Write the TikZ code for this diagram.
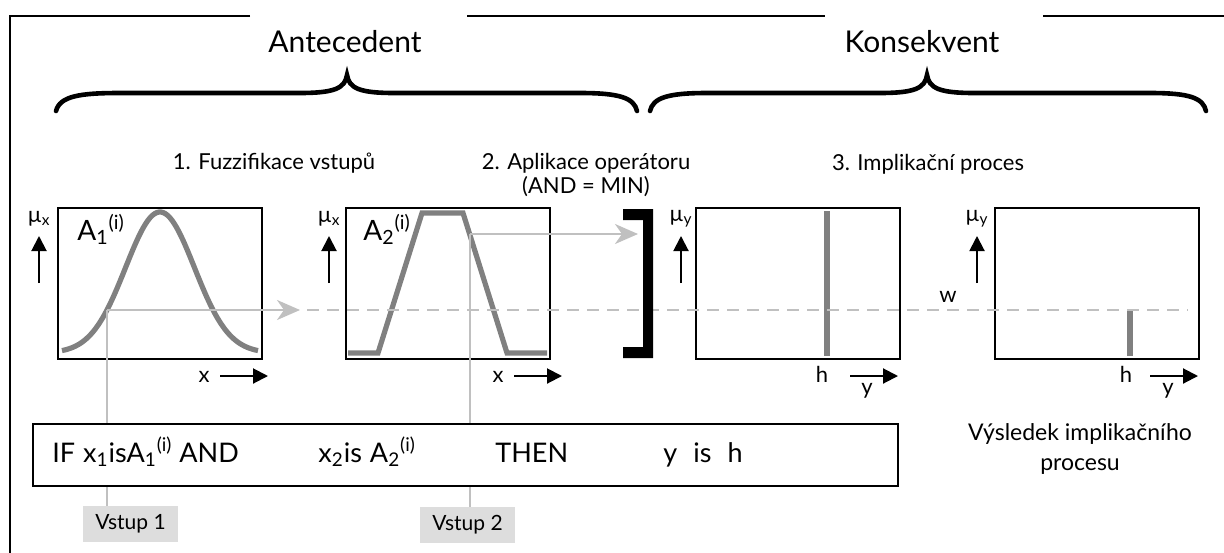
\documentclass[tikz,border=0pt]{standalone}
\usepackage{fontspec}
\setmainfont{Lato}
\usepackage{tikz}
\usetikzlibrary{arrows.meta}
\usetikzlibrary{positioning}
\definecolor{mfgray}{RGB}{128,128,128}
\definecolor{guidegray}{RGB}{192,192,192}
\definecolor{vstupfill}{RGB}{221,221,221}
\tikzset{>={Triangle[length=7.5pt,width=7.5pt]}}
\tikzset{
  frame/.style={line width=0.9pt},
  brace/.style={line width=2.3pt, line cap=round},
  title/.style={font=\fontsize{15}{18}\selectfont, inner sep=0pt},
  stage/.style={font=\fontsize{11}{12}\selectfont, inner sep=0pt, align=center},
  plotbox/.style={draw, line width=1pt, minimum width=102pt, minimum height=75.5pt, inner sep=0pt},
  mfline/.style={draw=mfgray, line width=2.6pt},
  guide/.style={draw=guidegray, line width=1.2pt},
  guidearrow/.style={guide, -{Stealth[length=11.5pt,width=10pt,inset=3.5pt]}},
  axlab/.style={font=\fontsize{11}{13}\selectfont, inner sep=0pt},
  alab/.style={font=\fontsize{14}{16}\selectfont, inner sep=0pt, anchor=base west},
  rulebox/.style={draw, fill=white, line width=1pt, minimum width=432.5pt, minimum height=31pt, inner sep=0pt},
  ruletext/.style={font=\fontsize{13.5}{16}\selectfont, inner sep=0pt, anchor=base west},
  inbox/.style={fill=vstupfill, font=\fontsize{10.5}{12}\selectfont, minimum width=47.5pt, minimum height=18pt, inner sep=0pt}
}
\newcommand{\muaxis}[3]{% {name}{x}{index}
  \node[axlab] (#1) at (#2,219) {µ\textsubscript{#3}};
  \draw[->, line width=1pt] (#2,283) -- (#2,236); % arrow up
}
\newcommand{\xaxis}[4]{% {name}{label x}{arrow start}{label}
  \node[axlab, anchor=base] (#1) at (#2,382) {#4};
  \draw[->, line width=1pt] (#3,376) -- ++(48,0); % arrow right
}

\begin{document}
\begin{tikzpicture}[x=0.5pt,y=-0.5pt]
  \useasboundingbox (0,0) rectangle (1224,552);
  % frame
  \draw[frame] (250,16) -- (10,16) -- (10,553);
  \draw[frame] (467,16) -- (825,16);
  \draw[frame] (1043,16) -- (1225,16);

  % titles and braces
  \node[title, anchor=base] (ante) at (345,52) {Antecedent};
  \node[title, anchor=base] (kons) at (922,52) {Konsekvent};
  \draw[brace] (56,111) .. controls (60,96) and (80,93) .. (120,93) -- (300,93)
    .. controls (335,93) and (345,88) .. (347,75)
    .. controls (349,88) and (359,93) .. (394,93) -- (580,93)
    .. controls (620,93) and (634,98) .. (637,111);
  \draw[brace] (650,111) .. controls (653,98) and (667,93) .. (707,93) -- (880,93)
    .. controls (915,93) and (925,88) .. (927,75)
    .. controls (929,88) and (939,93) .. (974,93) -- (1150,93)
    .. controls (1190,93) and (1203,98) .. (1206,111);

  \node[stage, anchor=base] (st1) at (274,169) {1. Fuzzifikace vstupů};
  \node[stage, anchor=north] (st2) at (586,153) {2. Aplikace operátoru\\(AND = MIN)};
  \node[stage, anchor=base] (st3) at (928,170) {3. Implikační proces};

  % plots
  \node[plotbox] (p1) at (160,283.5) {};
  \node[plotbox] (p2) at (448,283.5) {};
  \node[plotbox] (p3) at (797.5,283.5) {};
  \node[plotbox] (p4) at (1096.5,283.5) {};

  \draw[mfline] plot[domain=62:258, samples=90] (\x,{353-141*exp(-0.5*((\x-160)/34.4)*((\x-160)/34.4))});
  \draw[mfline, line join=miter] (348,353) -- (378,353) -- (422,213) -- (463,213) -- (507,353) -- (547,353);
  \draw[mfline] (827,211) -- (827,356);
  \draw[mfline] (1130,311) -- (1130,356);

  \node[alab] (a1) at (77,240) {A\textsubscript{1}\textsuperscript{(i)}};
  \node[alab] (a2) at (363,240) {A\textsubscript{2}\textsuperscript{(i)}};

  \muaxis{mu1}{39}{x}
  \muaxis{mu2}{329}{x}
  \muaxis{mu3}{681}{y}
  \muaxis{mu4}{977}{y}
  \xaxis{x1}{204}{220}{x}
  \xaxis{x2}{498}{514}{x}
  \xaxis{h3}{822}{850}{h}
  \xaxis{h4}{1126}{1150}{h}
  \node[axlab, anchor=base] (y3) at (867,394) {y};
  \node[axlab, anchor=base] (y4) at (1168,394) {y};
  \node[axlab, anchor=base] (w) at (948,302) {w};

  % inputs
  \node[inbox] (v1) at (130.5,524) {Vstup 1};
  \node[inbox] (v2) at (467.5,525) {Vstup 2};

  \coordinate (c1) at (107,310);
  \coordinate (c2) at (470,234);
  \coordinate (t1) at (300,310);
  \coordinate (t2) at (638,234);
  \coordinate (d0) at (307,310);
  \coordinate (d1) at (1188,310);
  \draw[guide] (c1) -- (c1 |- v1.north);
  \draw[guide] (c2) -- (c2 |- v2.north);
  \draw[guidearrow] (c1) -- (t1);
  \draw[guidearrow] (c2) -- (t2);
  \draw[guide, dash pattern=on 6pt off 4pt] (d0) -- (d1);

  % min operator
  \fill (623,209) -- (653,209) -- (653,358) -- (623,358) -- (623,347) -- (643,347)
    -- (643,220) -- (623,220) -- cycle;

  % rule
  \node[rulebox] (rule) at (465.5,455) {};
  \node[ruletext] (rif) at (52,462) {IF\hspace{4pt}x\textsubscript{1}isA\textsubscript{1}\textsuperscript{(i)} AND};
  \node[ruletext] (rx2) at (318,462) {x\textsubscript{2}is\hspace{4pt}A\textsubscript{2}\textsuperscript{(i)}};
  \node[ruletext] (rthen) at (495,462) {THEN};
  \node[ruletext] (ry) at (663,462) {y\hspace{8pt}is\hspace{8pt}h};

  \node[stage, anchor=north, font=\fontsize{11.5}{15}\selectfont] (res) at (1080,423) {Výsledek implikačního\\procesu};
\end{tikzpicture}
\end{document}
